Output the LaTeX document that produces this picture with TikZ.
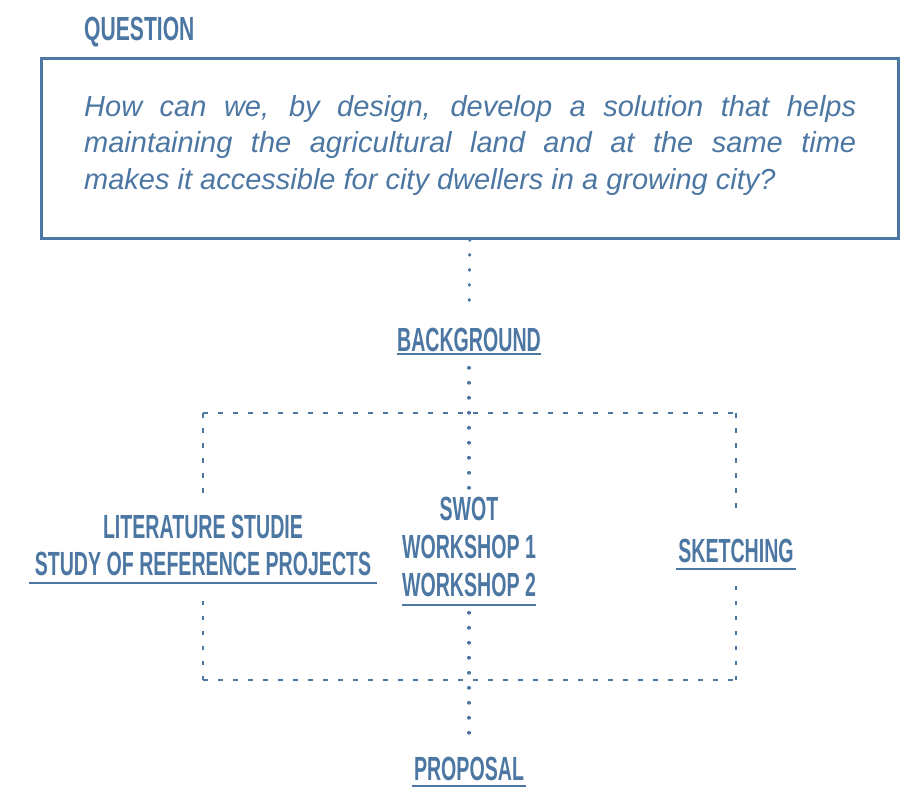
\documentclass[tikz,border=0pt]{standalone}
\usepackage{fontspec}
\setmainfont{Liberation Sans}
\newfontfamily\condfont[FakeStretch=0.585]{Liberation Sans}
\newfontfamily\condtitle[FakeStretch=0.63]{Liberation Sans}
\definecolor{ink}{RGB}{76,119,163}
\begin{document}
\begin{tikzpicture}[x=1pt,y=-1pt,
  lbl/.style={inner sep=0pt, anchor=base, text=ink, font=\condfont\bfseries\fontsize{33.5}{40}\selectfont},
  qtext/.style={inner sep=0pt, anchor=base west, text=ink, font=\itshape\fontsize{29}{36}\selectfont},
  uline/.style={draw=ink, line width=2.2pt},
  dotl/.style={draw=ink, line width=3.2pt, line cap=round, dash pattern=on 0.6pt off 14.4pt},
  dashl/.style={draw=ink, line width=2.8pt, dash pattern=on 4.5pt off 10.5pt}]
\useasboundingbox (0,0) rectangle (913,787);
% title and question box
\node[lbl, anchor=base west, font=\condtitle\bfseries\fontsize{33.5}{40}\selectfont] (qt) at (84,40) {QUESTION};
\node[draw=ink, line width=2.6pt, anchor=north west, minimum width=857pt, minimum height=180pt, inner sep=0pt] (box) at (40,57) {};
\node[qtext] (q1) at (84,116) {\makebox[772pt][s]{How can we, by design, develop a solution that helps}};
\node[qtext] (q2) at (84,152.5) {\makebox[772pt][s]{maintaining the agricultural land and at the same time}};
\node[qtext] (q3) at (84,189) {makes it accessible for city dwellers in a growing city?};
% labels
\node[lbl] (bg) at (469,351) {BACKGROUND};
\node[lbl] (lit) at (203,538) {LITERATURE STUDIE};
\node[lbl] (study) at (203,575) {STUDY OF REFERENCE PROJECTS};
\node[lbl] (swot) at (469,520) {SWOT};
\node[lbl] (w1) at (469,558) {WORKSHOP 1};
\node[lbl] (w2) at (469,596) {WORKSHOP 2};
\node[lbl] (sk) at (736,562) {SKETCHING};
\node[lbl] (prop) at (469,780) {PROPOSAL};
% underlines
\draw[uline] ([yshift=-3pt]bg.base west) -- ([yshift=-3pt]bg.base east);
\draw[uline] ([xshift=-6pt,yshift=-8pt]study.base west) -- ([xshift=6pt,yshift=-8pt]study.base east);
\draw[uline] ([yshift=-9pt]w2.base west) -- ([yshift=-9pt]w2.base east);
\draw[uline] ([xshift=-2pt,yshift=-7pt]sk.base west) -- ([xshift=2pt,yshift=-7pt]sk.base east);
\draw[uline] ([xshift=-2pt,yshift=-6pt]prop.base west) -- ([xshift=2pt,yshift=-6pt]prop.base east);
% dashed frame corners
\coordinate (tl) at (203,413);
\coordinate (tr) at (736,413);
\coordinate (br) at (736,680);
\coordinate (bl) at (203,680);
\draw[dashl] (tl) -- (tr);
\draw[dashl] (bl) -- (br);
\draw[dashl, shorten >=18pt] (tl) -- (lit.north);
\draw[dashl, shorten >=18pt] (bl) -- (study.south);
\draw[dashl, shorten >=22pt] (tr) -- (sk.north);
\draw[dashl, shorten >=15pt] (br) -- (sk.south);
% central dotted spine
\draw[dotl, shorten >=26pt] (box.south) -- (bg.north);
\draw[dotl, shorten <=16pt, shorten >=6pt] (bg.south) -- (swot.north);
\draw[dotl, shorten <=16pt, shorten >=10pt] (w2.south) -- (prop.north);
\end{tikzpicture}
\end{document}
